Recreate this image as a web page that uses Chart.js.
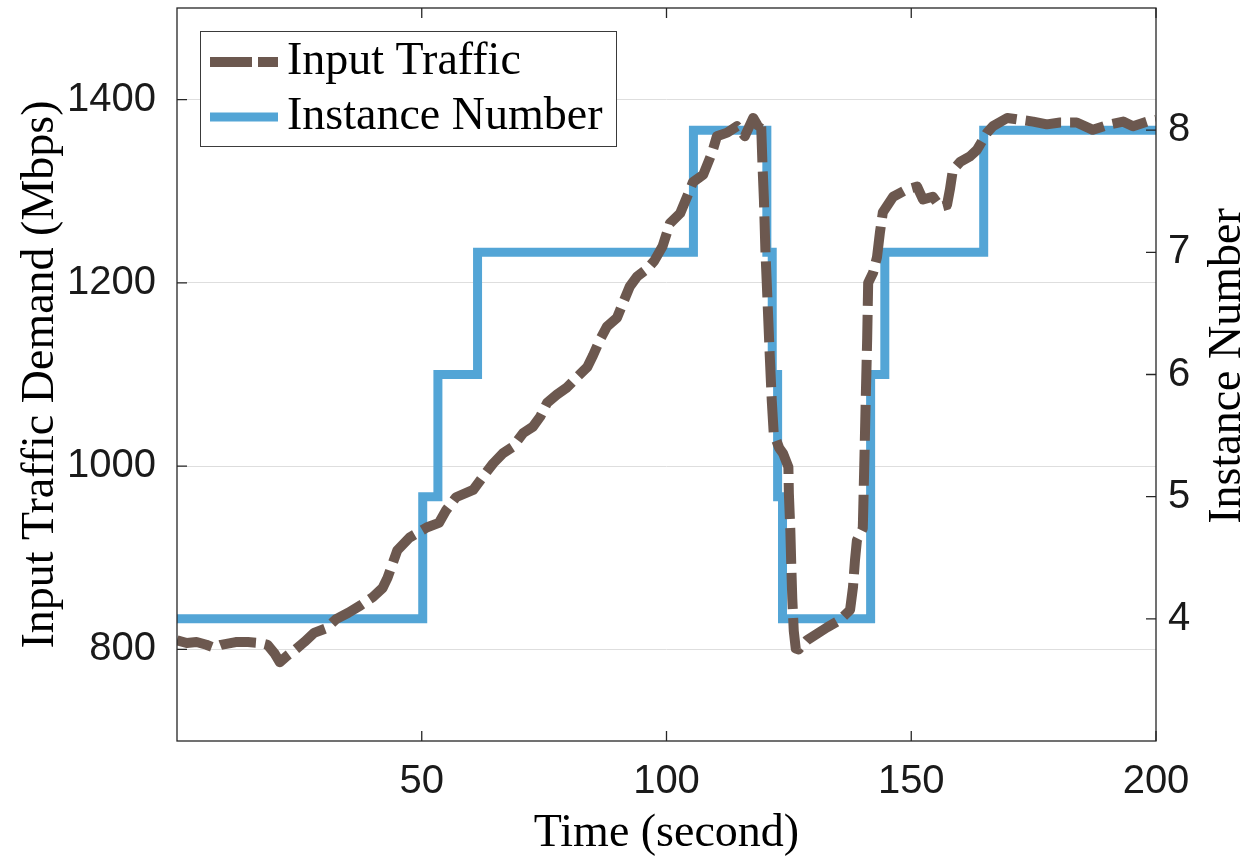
<!DOCTYPE html>
<html><head><meta charset="utf-8">
<script src="https://cdn.jsdelivr.net/npm/chart.js@4.4.0/dist/chart.umd.min.js"></script>
<style>html,body{margin:0;padding:0;background:#fff;}#wrap{width:1247px;height:856px;position:relative;}</style>
</head><body><div id="wrap"><canvas id="c"></canvas></div>
<script>
// ---- data ----
const trafficTime = [0,2,4,6,7.5,9,12,14.5,17,18.5,20,21,22.5,24,26,28,30.5,32.5,35,37.5,40,42,43,45,47.5,51,53.5,55,57,60.5,62.3,64.6,66.6,68.6,70.7,72.7,74.2,75.6,77.6,79.7,81.7,83.8,85,86.4,87.8,89.9,91.1,92.5,94,96,97.5,99.2,100.7,102.8,104.2,105.4,107.5,109.3,110.3,112.4,114.4,116,117.7,118.6,119.3,119.6,119.9,120.2,120.6,121.1,121.5,121.9,123,123.8,124.9,125,125.3,125.5,125.7,126,126.4,127,128.7,132.8,135.4,137.5,138.1,138.5,138.9,140.1,140.4,140.7,141,141.2,142.2,143,143.6,144.2,146.3,149.1,151.2,152.4,154.4,155.9,157.3,157.9,158.5,160,162,163.4,165.5,166.7,169.6,172.2,174.9,177.7,180.4,183.8,187.1,190.6,193.3,195.3,198.2,200];
const trafficMbps = [810,807,808,805,802,805,808,808,807,805,795,786,793,799,808,818,823,833,840,848,857,867,878,908,922,933,938,952,966,974,987,1003,1014,1021,1036,1043,1054,1069,1078,1086,1097,1108,1121,1138,1152,1162,1178,1196,1207,1215,1224,1240,1265,1276,1294,1310,1318,1342,1360,1364,1371,1360,1380,1372,1378,1330,1291,1236,1185,1120,1072,1036,1020,1014,999,970,930,890,855,820,801,800,810,824,832,843,868,897,919,932,1000,1072,1140,1200,1211,1228,1255,1277,1294,1302,1305,1291,1294,1283,1285,1302,1323,1332,1338,1345,1364,1371,1380,1378,1376,1373,1375,1375,1367,1373,1376,1371,1376,1378];
const instanceTime = [0,50.2,53.3,61.4,105.5,120.5,121.6,122.7,123.7,141.7,144.6,164.8,200];
const instanceCount = [4,5,6,7,8,7,6,5,4,6,7,8,8];
const xTickValues = [50,100,150,200];
const leftTickValues = [800,1000,1200,1400];
const rightTickValues = [4,5,6,7,8];
const seriesNames = ['Input Traffic','Instance Number'];
const titleX = 'Time (second)';
const titleLeft = 'Input Traffic Demand (Mbps)';
const titleRight = 'Instance Number';

const BROWN = '#6c584f';
const BLUE = '#53a5d6';
const DASH = [36, 9];
const SERIF = '"Liberation Serif","Times New Roman",serif';
const SANS = '"Liberation Sans",Arial,sans-serif';

const decor = {
  id: 'decor',
  afterDatasetsDraw(chart) {
    const {ctx, chartArea: a, scales} = chart;
    ctx.save();
    ctx.strokeStyle = '#262626';
    ctx.lineWidth = 1.3;
    ctx.setLineDash([]);
    ctx.strokeRect(a.left, a.top, a.right - a.left, a.bottom - a.top);
    const tl = 10;
    ctx.beginPath();
    xTickValues.forEach(v => { const p = scales.x.getPixelForValue(v); ctx.moveTo(p, a.bottom); ctx.lineTo(p, a.bottom - tl); ctx.moveTo(p, a.top); ctx.lineTo(p, a.top + tl); });
    leftTickValues.forEach(v => { const p = scales.y.getPixelForValue(v); ctx.moveTo(a.left, p); ctx.lineTo(a.left + tl, p); });
    rightTickValues.forEach(v => { const p = scales.y1.getPixelForValue(v); ctx.moveTo(a.right, p); ctx.lineTo(a.right - tl, p); });
    ctx.stroke();

    // legend
    const L = {x: 200, y: 31, w: 416, h: 115};
    ctx.fillStyle = '#fff';
    ctx.fillRect(L.x, L.y, L.w, L.h);
    ctx.lineWidth = 1;
    ctx.strokeStyle = '#3a3a3a';
    ctx.strokeRect(L.x + 0.5, L.y + 0.5, L.w, L.h);
    const rows = [62, 117];
    const ds = chart.data.datasets;
    rows.forEach((ry, i) => {
      ctx.beginPath();
      ctx.lineWidth = ds[i].borderWidth;
      ctx.strokeStyle = ds[i].borderColor;
      ctx.lineCap = 'butt';
      ctx.setLineDash(i === 0 ? [42, 6] : []);
      ctx.moveTo(210, ry); ctx.lineTo(278, ry);
      ctx.stroke();
      ctx.setLineDash([]);
      ctx.fillStyle = '#000';
      ctx.font = '46px ' + SERIF;
      ctx.textAlign = 'left';
      ctx.textBaseline = 'middle';
      ctx.fillText(seriesNames[i], 287, ry);
    });
    ctx.restore();
  },
  afterDraw(chart) {
    const {ctx, chartArea: a} = chart;
    ctx.save();
    ctx.fillStyle = '#000';
    ctx.font = '46px ' + SERIF;
    ctx.textAlign = 'center';
    ctx.textBaseline = 'alphabetic';
    ctx.fillText(titleX, (a.left + a.right) / 2, 846);
    ctx.save();
    ctx.translate(53, (a.top + a.bottom) / 2);
    ctx.rotate(-Math.PI / 2);
    ctx.fillText(titleLeft, 0, 0);
    ctx.restore();
    ctx.save();
    ctx.translate(1240, 366);
    ctx.rotate(-Math.PI / 2);
    ctx.fillText(titleRight, 0, 0);
    ctx.restore();
    ctx.restore();
  }
};

const noPad = s => { s.paddingTop = 0; s.paddingBottom = 0; s.paddingLeft = 0; s.paddingRight = 0; };
const tickFont = {family: SANS, size: 40};
const plain = v => String(v);
new Chart(document.getElementById('c'), {
  type: 'line',
  data: {
    datasets: [
      {
        label: seriesNames[0],
        data: trafficTime.map((t, i) => ({x: t, y: trafficMbps[i]})),
        yAxisID: 'y',
        borderColor: BROWN,
        borderWidth: 10,
        borderDash: DASH,
        borderCapStyle: 'butt',
        borderJoinStyle: 'round',
        pointRadius: 0,
        tension: 0,
        fill: false
      },
      {
        label: seriesNames[1],
        data: instanceTime.map((t, i) => ({x: t, y: instanceCount[i]})),
        yAxisID: 'y1',
        borderColor: BLUE,
        borderWidth: 9,
        stepped: 'before',
        borderCapStyle: 'butt',
        borderJoinStyle: 'miter',
        pointRadius: 0,
        fill: false
      }
    ]
  },
  options: {
    responsive: true,
    maintainAspectRatio: false,
    animation: false,
    layout: {padding: {top: 8, left: 0, right: 0, bottom: 0}},
    plugins: {legend: {display: false}, tooltip: {enabled: false}},
    scales: {
      x: {
        type: 'linear', min: 0, max: 200,
        afterBuildTicks: s => { s.ticks = xTickValues.map(v => ({value: v})); },
        afterFit: s => { s.height = 115; noPad(s); },
        grid: {display: false, drawTicks: false},
        border: {display: false},
        ticks: {font: tickFont, color: '#1a1a1a', padding: 17, maxRotation: 0, autoSkip: false, callback: plain}
      },
      y: {
        type: 'linear', position: 'left', min: 700, max: 1500,
        afterBuildTicks: s => { s.ticks = leftTickValues.map(v => ({value: v})); },
        afterFit: s => { s.width = 177; noPad(s); },
        grid: {color: '#dedede', lineWidth: 1, drawTicks: false},
        border: {display: false},
        ticks: {font: tickFont, color: '#1a1a1a', padding: 21, autoSkip: false, callback: plain}
      },
      y1: {
        type: 'linear', position: 'right', min: 3, max: 9,
        afterBuildTicks: s => { s.ticks = rightTickValues.map(v => ({value: v})); },
        afterFit: s => { s.width = 91; noPad(s); },
        grid: {display: false, drawOnChartArea: false, drawTicks: false},
        border: {display: false},
        ticks: {font: tickFont, color: '#1a1a1a', padding: 12, autoSkip: false, callback: plain}
      }
    }
  },
  plugins: [decor]
});
</script></body></html>
